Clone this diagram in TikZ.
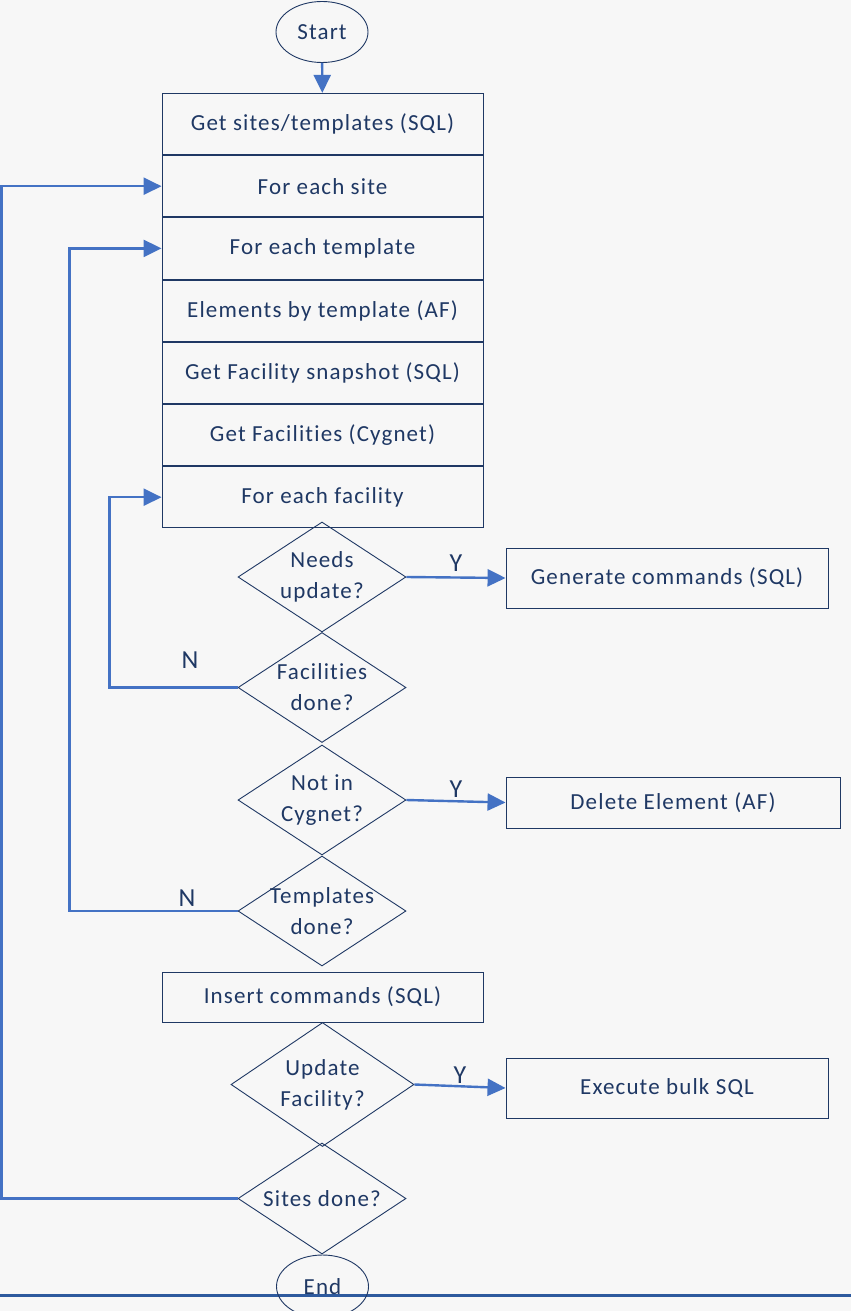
\documentclass[tikz,border=0pt]{standalone}
\usepackage{fontspec}
\setmainfont{Carlito}[LetterSpace=5,Ligatures=NoCommon]
\usetikzlibrary{shapes.geometric,arrows.meta}
\definecolor{navy}{HTML}{1F3864}
\definecolor{flow}{HTML}{4472C4}
\definecolor{rulecol}{HTML}{2E5A9E}
\definecolor{paper}{HTML}{F7F7F7}
\tikzset{
  txt/.style={text=navy, font=\fontsize{23}{31}\selectfont},
  stepbox/.style={txt, draw=navy, line width=0.9pt, minimum width=321pt, minimum height=61.3pt, inner sep=0pt},
  sidebox/.style={txt, draw=navy, line width=0.9pt, minimum height=60pt, inner sep=0pt},
  % the question text sits in a centred label so it never widens the diamond
  decision/.style={diamond, draw=navy, line width=0.9pt, minimum width=168pt, minimum height=110pt, inner sep=0pt,
    label={[txt, align=center, inner sep=0pt]center:#1}},
  terminal/.style={txt, ellipse, draw=navy, line width=0.9pt, minimum width=92pt, minimum height=61pt, inner sep=0pt},
  flowline/.style={draw=flow, line width=2.4pt, -{Triangle[length=18pt,width=17pt]}},
  answer/.style={text=navy, font=\fontsize{26}{31}\selectfont}
}
\begin{document}
\begin{tikzpicture}[x=1pt,y=-1pt]
  \useasboundingbox (0,0) rectangle (851,1311);
  \fill[paper] (0,0) rectangle (851,1311);

  % main column
  \node[terminal] (start) at (322,32) {Start};
  \node[stepbox] (sitesql) at (322.5,124) {Get sites/templates (SQL)};
  \node[stepbox, anchor=north] (site) at (sitesql.south) {For each site};
  \node[stepbox, anchor=north] (tmpl) at (site.south) {For each template};
  \node[stepbox, anchor=north] (elem) at (tmpl.south) {Elements by template (AF)};
  \node[stepbox, anchor=north] (snap) at (elem.south) {Get Facility snapshot (SQL)};
  \node[stepbox, anchor=north] (cyg) at (snap.south) {Get Facilities (Cygnet)};
  \node[stepbox, anchor=north] (fac) at (cyg.south) {For each facility};

  \node[decision={Needs\\update?}] (needs) at (322,577) {};
  \node[decision={Facilities\\done?}] (facdone) at (322,687.5) {};
  \node[decision={Not in\\Cygnet?}] (notin) at (322,800) {};
  \node[decision={Templates\\done?}] (tmpldone) at (322,911) {};
  \node[stepbox, minimum height=50pt] (insert) at (322.5,997) {Insert commands (SQL)};
  \node[decision={Update\\Facility?}, minimum width=183pt, minimum height=124pt] (upd) at (322.5,1084.5) {};
  \node[decision={Sites done?}, minimum height=111pt] (sitesdone) at (322,1198.5) {};

  % closing rule across the page
  \coordinate (ruleL) at (0,1295);
  \coordinate (ruleR) at (851,1295);
  \draw[rulecol, line width=3pt] (ruleL) -- (ruleR);
  \node[terminal, minimum height=63pt] (end) at (322.5,1286.5) {End};

  % side actions
  \node[sidebox, minimum width=322pt] (gen) at (667,578) {Generate commands (SQL)};
  \node[sidebox, minimum width=334pt, minimum height=51pt] (del) at (673,802.5) {Delete Element (AF)};
  \node[sidebox, minimum width=322pt] (exec) at (667,1088) {Execute bulk SQL};

  % connectors
  \draw[flowline] (start) -- (sitesql);
  \draw[flowline] (needs.east) -- (gen.west);
  \draw[flowline] (notin.east) -- (del.west);
  \draw[flowline] (upd.east) -- (exec.west);
  \node[answer] at (456,563) {Y};
  \node[answer] at (456,789) {Y};
  \node[answer] at (460,1075) {Y};

  \draw[flowline] (facdone.west) -- ++(-128,0) |- (fac.west);
  \node[answer] at (190,660) {N};
  \draw[flowline] (tmpldone.west) -- ++(-168,0) |- (tmpl.west);
  \node[answer] at (187,898) {N};
  \draw[flowline] (sitesdone.west) -- ++(-236,0) |- (site.west);
\end{tikzpicture}
\end{document}
